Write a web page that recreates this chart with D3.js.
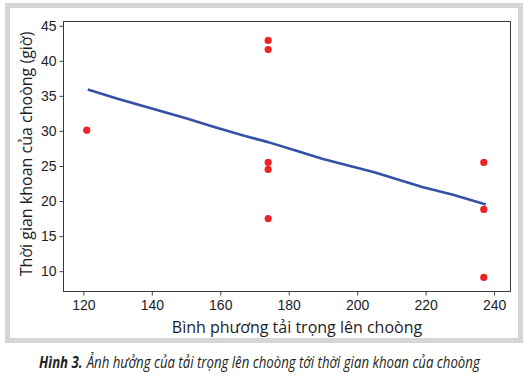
<!DOCTYPE html>
<html>
<head>
<meta charset="utf-8">
<script src="https://cdn.jsdelivr.net/npm/d3@7"></script>
<style>
  body { margin: 0; background: #fff; }
  svg { display: block; font-family: "Open Sans", "Noto Sans", sans-serif; }
</style>
</head>
<body>
<svg id="chart"></svg>
<script>
// scatter points: load squared (x) vs drilling time in hours (y)
const loadSq = [121, 174, 174, 174, 174, 174, 237, 237, 237];
const hours = [30.1, 42.9, 41.6, 25.5, 24.5, 17.5, 25.5, 18.8, 9.1];

// smoothed fit line
const fitX = [121.3, 130, 140, 150, 158, 167, 174, 182, 190, 205, 219, 228, 237.6];
const fitY = [35.9, 34.6, 33.2, 31.8, 30.6, 29.3, 28.4, 27.2, 26.0, 24.1, 22.0, 20.9, 19.5];

const xTicks = [120, 140, 160, 180, 200, 220, 240];
const yTicks = [10, 15, 20, 25, 30, 35, 40, 45];

const xTitle = 'Bình phương tải trọng lên choòng';
const yTitle = 'Thời gian khoan của choòng (giờ)';
const captionBold = 'Hình 3.';
const captionText = 'Ảnh hưởng của tải trọng lên choòng tới thời gian khoan của choòng';

const width = 526;
const height = 376;
const plot = { left: 63.5, top: 21.5, right: 510.5, bottom: 291.5 };

const svg = d3.select('#chart')
  .attr('width', width)
  .attr('height', height);

// grey frame round the figure
svg.append('rect')
  .attr('x', 7.5).attr('y', 5.5)
  .attr('width', 513).attr('height', 335)
  .attr('fill', 'none')
  .attr('stroke', '#d5d6d8')
  .attr('stroke-width', 5);

const x = d3.scaleLinear()
  .domain([114.2, 244.8])
  .range([plot.left, plot.right]);

const y = d3.scaleLinear()
  .domain([7.1, 45.6])
  .range([plot.bottom, plot.top]);

// axes
const xAxis = g => g
  .attr('transform', `translate(0, ${plot.bottom})`)
  .call(d3.axisBottom(x).tickValues(xTicks).tickSize(4).tickPadding(5).tickSizeOuter(0));

const yAxis = g => g
  .attr('transform', `translate(${plot.left}, 0)`)
  .call(d3.axisLeft(y).tickValues(yTicks).tickSize(4).tickPadding(3).tickSizeOuter(0));

svg.append('g').call(xAxis);
svg.append('g').call(yAxis);

svg.selectAll('.domain').remove();
svg.selectAll('.tick line').attr('stroke', '#444');
svg.selectAll('.tick text')
  .attr('fill', '#1c1c28')
  .style('font-size', '14px');

// plot box
svg.append('rect')
  .attr('x', plot.left).attr('y', plot.top)
  .attr('width', plot.right - plot.left)
  .attr('height', plot.bottom - plot.top)
  .attr('fill', 'none')
  .attr('stroke', '#3a3a3a')
  .attr('stroke-width', 1);

// fit line
const fit = fitX.map((d, i) => [d, fitY[i]]);
svg.append('path')
  .datum(fit)
  .attr('fill', 'none')
  .attr('stroke', '#3550a5')
  .attr('stroke-width', 2.6)
  .attr('stroke-linejoin', 'round')
  .attr('d', d3.line().x(d => x(d[0])).y(d => y(d[1])));

// points
svg.append('g')
  .selectAll('circle')
  .data(loadSq)
  .join('circle')
  .attr('cx', d => x(d))
  .attr('cy', (d, i) => y(hours[i]))
  .attr('r', 3.6)
  .attr('fill', '#ee2229');

// axis titles
svg.append('text')
  .attr('x', 297)
  .attr('y', 333)
  .attr('text-anchor', 'middle')
  .attr('fill', '#1c1c28')
  .style('font-size', '16px')
  .text(xTitle);

svg.append('text')
  .attr('transform', `translate(32, 154) rotate(-90)`)
  .attr('text-anchor', 'middle')
  .attr('fill', '#1c1c28')
  .style('font-size', '16px')
  .text(yTitle);

// caption: condensed look by squeezing the whole line to the reference width
const capG = svg.append('g');
const capBold = capG.append('text')
  .attr('x', 0)
  .attr('y', 0)
  .attr('fill', '#231f20')
  .style('font-size', '16px')
  .style('font-style', 'italic')
  .style('font-weight', 'bold')
  .text(captionBold);

const boldW = capBold.node().getComputedTextLength();
const capRest = capG.append('text')
  .attr('x', boldW + 5)
  .attr('y', 0)
  .attr('fill', '#231f20')
  .style('font-size', '16px')
  .style('font-style', 'italic')
  .text(captionText);

const fullW = boldW + 5 + capRest.node().getComputedTextLength();
const sx = 441 / fullW;
capG.attr('transform', `translate(39, 368) scale(${sx}, 1)`);
</script>
</body>
</html>
